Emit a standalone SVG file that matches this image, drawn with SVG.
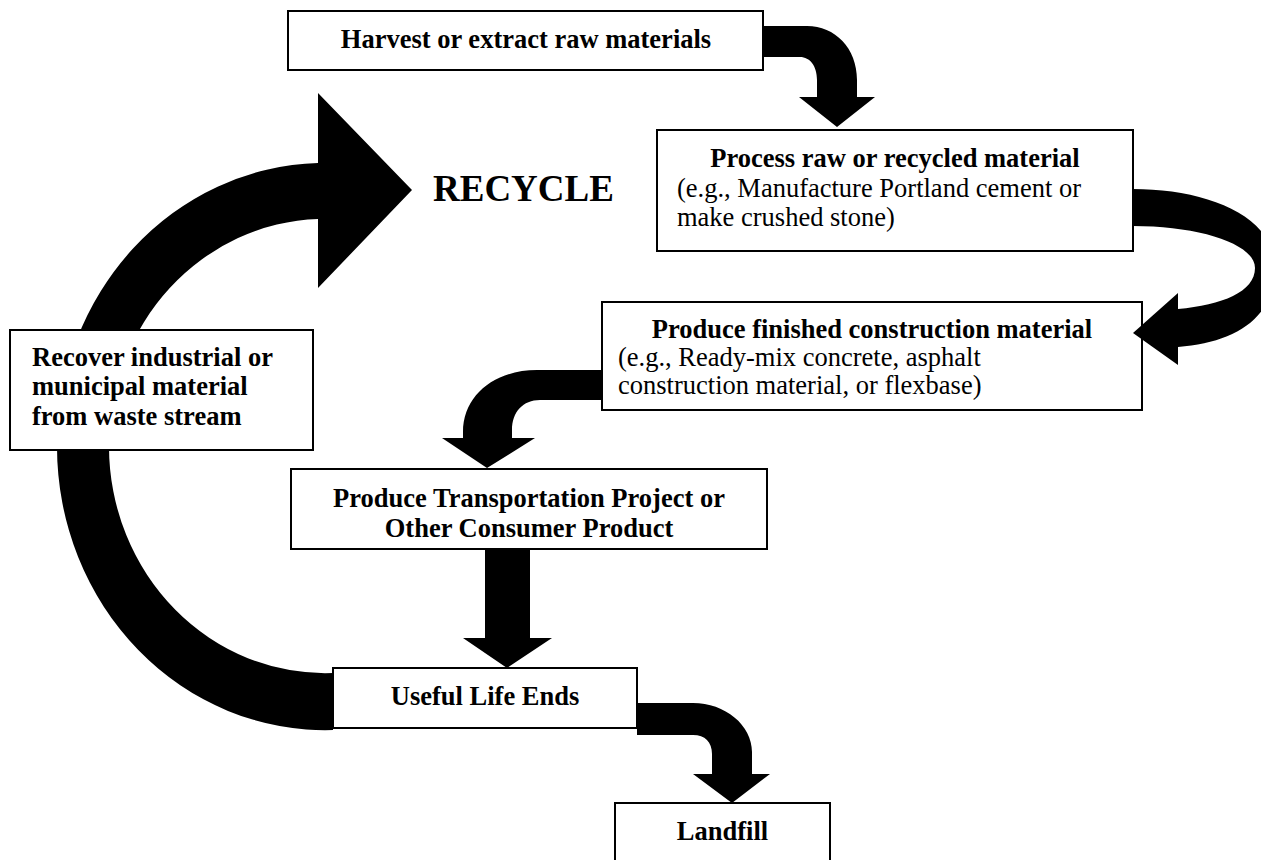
<svg xmlns="http://www.w3.org/2000/svg" width="1261" height="860" viewBox="0 0 1261 860">
<style>
.box{fill:#fff;stroke:#000;stroke-width:2}
.arrow{fill:#000;stroke:none}
text{font-family:'Liberation Serif','Times New Roman',Times,serif;font-size:26.5px;fill:#000}
.b{font-weight:bold}
.c{text-anchor:middle}
</style>
<rect width="1261" height="860" fill="#fff"/>
<g id="node-harvest">
<rect class="box" x="288" y="11" width="475" height="59"/>
<text class="b c" x="526" y="48">Harvest or extract raw materials</text>
</g>
<g id="node-process">
<rect class="box" x="657" y="130" width="476" height="121"/>
<text class="b c" x="895" y="167">Process raw or recycled material</text>
<text x="677" y="197">(e.g., Manufacture Portland cement or</text>
<text x="677" y="226">make crushed stone)</text>
</g>
<g id="node-finished">
<rect class="box" x="602" y="302" width="540" height="108"/>
<text class="b c" x="872" y="338">Produce finished construction material</text>
<text x="618" y="366">(e.g., Ready-mix concrete, asphalt</text>
<text x="618" y="394">construction material, or flexbase)</text>
</g>
<g id="node-transport">
<rect class="box" x="291" y="469" width="476" height="80"/>
<text class="b c" x="529" y="507">Produce Transportation Project or</text>
<text class="b c" x="529" y="537">Other Consumer Product</text>
</g>
<g id="node-useful">
<rect class="box" x="333" y="668" width="304" height="60"/>
<text class="b c" x="485" y="705">Useful Life Ends</text>
</g>
<g id="node-landfill">
<rect class="box" x="615" y="803" width="215" height="70"/>
<text class="b c" x="722.5" y="840">Landfill</text>
</g>
<g id="connectors">
<path class="arrow" d="M 764 26 L 807 26 C 835 26, 857 48, 857 80 L 857 97 L 875 97 L 837 127 L 799 97 L 817 97 L 817 80 C 817 66, 810 57, 800 57 L 764 57 Z"/>
<path class="arrow" d="M 1133 189 C 1205 189, 1275 215, 1275 268 C 1275 318, 1235 343, 1178 347 L 1178 365 L 1133 333 L 1178 293 L 1178 309 C 1222 305, 1255 292, 1255 268 C 1255 244, 1200 226, 1133 226 Z"/>
<path class="arrow" d="M 602 370 L 537 370 C 495 370, 463 395, 463 432 L 463 438 L 442 438 L 487 468 L 535 438 L 512 438 L 512 430 C 512 412, 523 400, 540 400 L 602 400 Z"/>
<path class="arrow" d="M 485 549 L 530 549 L 530 638 L 552 638 L 507 668 L 463 638 L 485 638 Z"/>
<path class="arrow" d="M 637 703 L 693 703 C 725 703, 752 725, 752 752 L 752 774 L 770 774 L 732 803 L 693 774 L 712 774 L 712 754 C 712 742, 705 735, 693 735 L 637 735 Z"/>
<path class="arrow" d="M 333 730 A 268 283.5 0 0 1 57 446.5 A 268 283.5 0 0 1 318 163 L 318 93 L 412 190 L 318 288 L 318 219 A 216 227 0 0 0 109 446 A 216 227 0 0 0 333 673 Z"/>
</g>
<g id="node-recover">
<rect class="box" x="10" y="330" width="303" height="120"/>
<text class="b" x="32" y="366">Recover industrial or</text>
<text class="b" x="32" y="395">municipal material</text>
<text class="b" x="32" y="425">from waste stream</text>
</g>
<g id="label-recycle">
<text class="b" x="433" y="201" style="font-size:37px">RECYCLE</text>
</g>
</svg>
